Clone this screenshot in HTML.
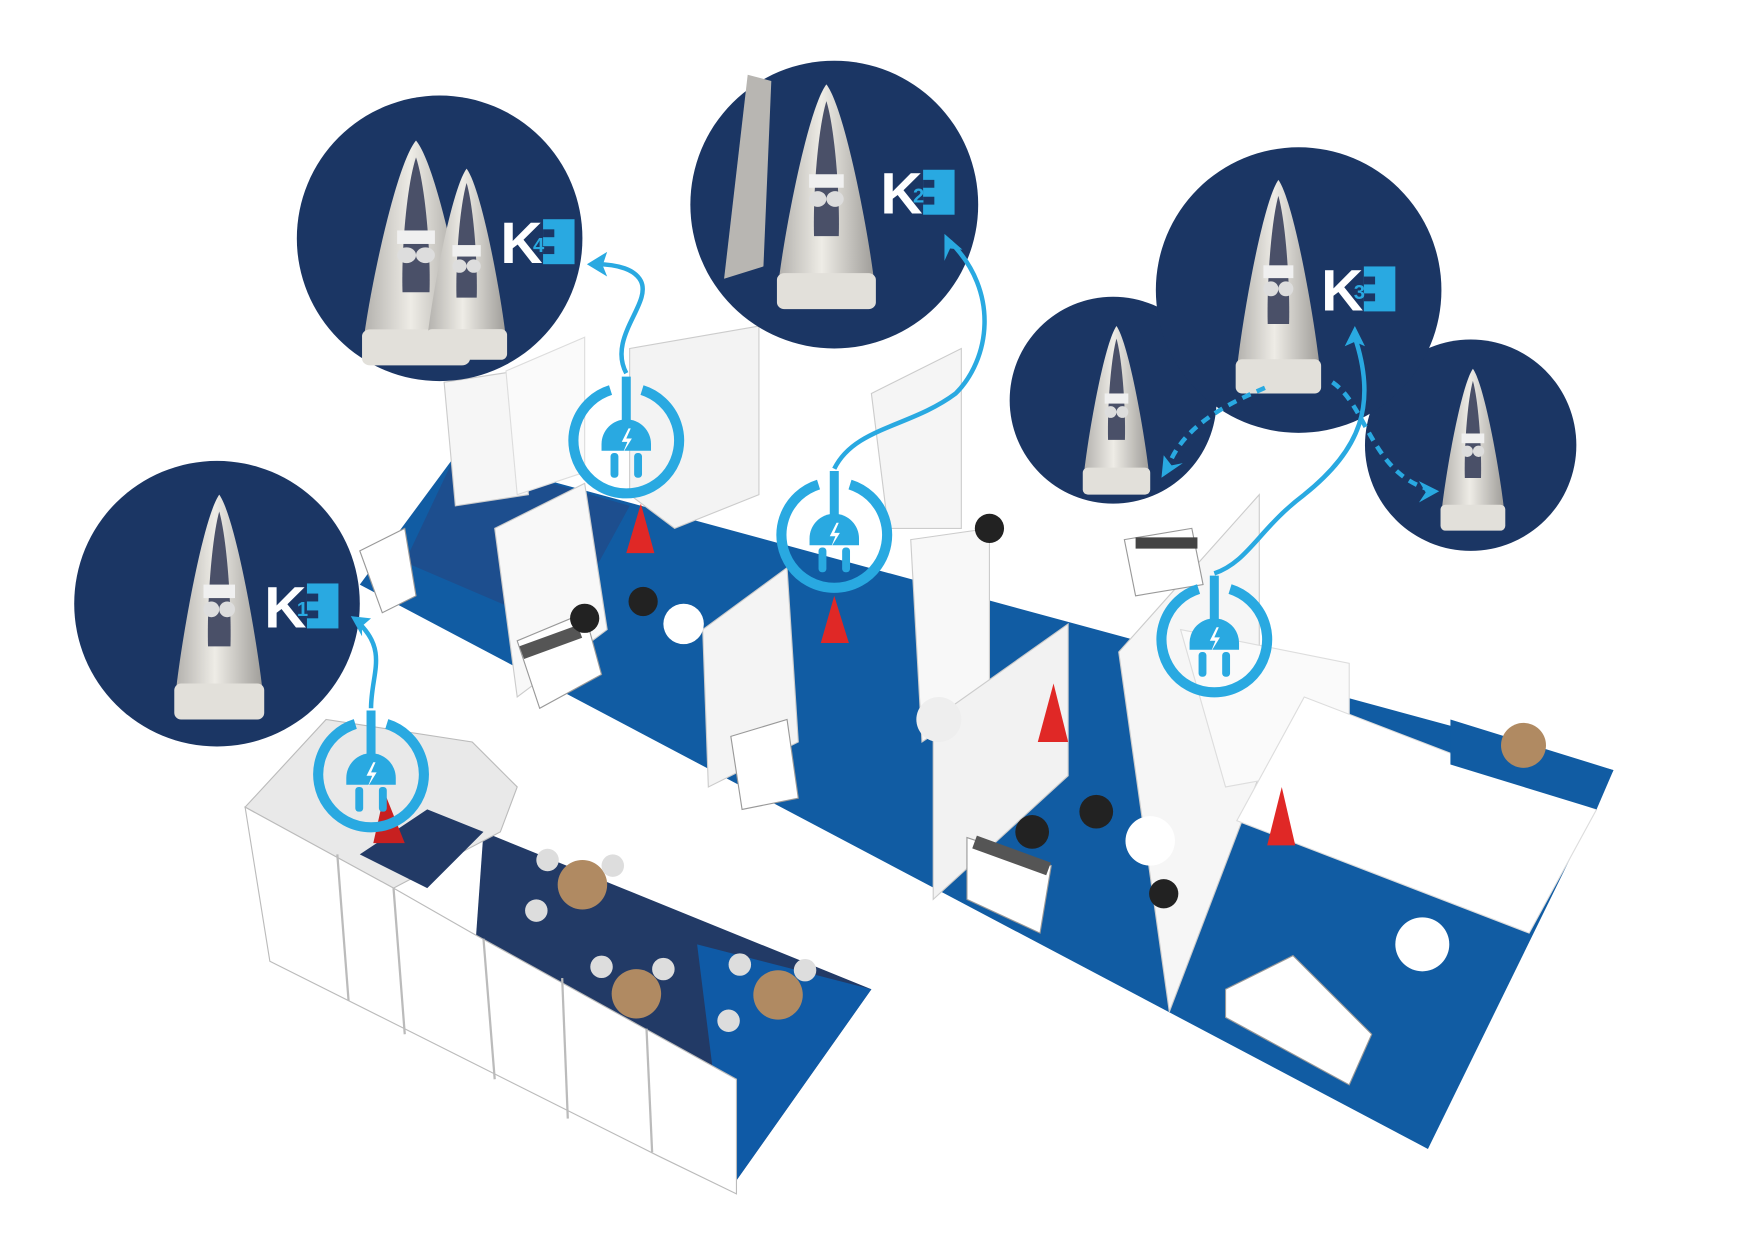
<!DOCTYPE html>
<html><head><style>html,body{margin:0;padding:0;background:#fff}svg{display:block}</style></head>
<body>
<svg width="1754" height="1240" viewBox="0 0 1560 1103" preserveAspectRatio="none" xmlns="http://www.w3.org/2000/svg" font-family="Liberation Sans, sans-serif">
<defs>
<g id="plug">
 <path d="M -14 -46 A 47 47 0 1 0 14 -46" fill="none" stroke="#29a9e1" stroke-width="9"/>
 <path d="M 0 -58 L 0 -18" stroke="#29a9e1" stroke-width="8" fill="none"/>
 <path d="M -22 8 L -22 2 A 22 22 0 0 1 22 2 L 22 8 Z" fill="#29a9e1"/>
 <path d="M 2 -12 L -4 0 L 1 0 L -3 10 L 5 -3 L 0 -3 L 4 -12 Z" fill="#fff"/>
 <rect x="-14" y="10" width="7" height="22" rx="3" fill="#29a9e1"/>
 <rect x="7" y="10" width="7" height="22" rx="3" fill="#29a9e1"/>
</g>
<linearGradient id="rob" x1="0" x2="1">
 <stop offset="0" stop-color="#b4b2ae"/><stop offset="0.45" stop-color="#eeece6"/><stop offset="1" stop-color="#a09e9a"/>
</linearGradient>
<g id="robot">
 <path d="M 0 -100 C -14 -80 -32 20 -38 70 L 38 70 C 32 20 14 -80 0 -100 Z" fill="url(#rob)"/>
 <path d="M 0 -85 C -7 -60 -11 0 -10 35 L 10 35 C 11 0 7 -60 0 -85 Z" fill="#4a5068"/>
 <rect x="-14" y="-20" width="28" height="12" fill="#f0f0f0"/>
 <circle cx="-7" cy="2" r="7" fill="#ddd"/><circle cx="7" cy="2" r="7" fill="#ddd"/>
 <rect x="-40" y="68" width="80" height="32" rx="6" fill="#e2e0da"/>
</g>
<g id="logo">
 <text x="0" y="39" font-size="52" font-weight="bold" fill="#fff">K</text>
 <rect x="38" y="0" width="28" height="40" fill="#29a9e1"/>
 <rect x="38" y="9" width="10" height="7" fill="#1b3664"/>
 <rect x="38" y="24" width="10" height="7" fill="#1b3664"/>
</g>
</defs>

<polygon points="405,405 1435,685 1270,1022 320,520" fill="#115ca3"/>
<polygon points="405,405 560,450 500,560 360,500" fill="#1d4e8e"/>
<polygon points="430,740 775,880 655,1050 420,880" fill="#223a66"/>
<polygon points="620,840 775,880 655,1050 640,1000" fill="#0f5aa6"/>
<polygon points="315,520 1100,1000 1040,1030 300,580" fill="#fff"/>

<polygon points="395,340 460,330 470,440 405,450" fill="#f6f6f6" stroke="#ccc"/>
<polygon points="450,330 520,300 520,420 460,440" fill="#fafafa" stroke="#ddd"/>
<polygon points="560,310 675,290 675,440 600,470 560,440" fill="#f3f3f3" stroke="#ccc"/>
<polygon points="775,350 855,310 855,470 790,470" fill="#f5f5f5" stroke="#ccc"/>
<polygon points="440,470 520,430 540,560 460,620" fill="#f8f8f8" stroke="#ccc"/>
<polygon points="625,560 700,505 710,660 630,700" fill="#f4f4f4" stroke="#ccc"/>
<polygon points="810,480 880,470 880,620 820,660" fill="#f8f8f8" stroke="#ccc"/>
<polygon points="830,640 950,555 950,690 830,800" fill="#f2f2f2" stroke="#ccc"/>
<polygon points="995,580 1120,440 1120,690 1040,900" fill="#f6f6f6" stroke="#ccc"/>
<polygon points="1050,560 1200,590 1200,680 1090,700" fill="#fafafa" stroke="#ddd"/>
<polygon points="1160,620 1420,720 1360,830 1100,730" fill="#fff" stroke="#ddd"/>
<polygon points="1290,640 1435,685 1420,720 1290,680" fill="#115ca3"/>
<polygon points="460,570 520,545 535,600 480,630" fill="#fff" stroke="#999"/>
<rect x="462" y="565" width="55" height="12" fill="#555" transform="rotate(-20 490 570)"/>
<polygon points="650,655 700,640 710,710 660,720" fill="#fff" stroke="#999"/>
<polygon points="860,745 935,770 925,830 860,800" fill="#fff" stroke="#999"/>
<rect x="865" y="755" width="70" height="12" fill="#555" transform="rotate(20 900 760)"/>
<polygon points="1090,880 1150,850 1220,920 1200,965 1090,905" fill="#fff" stroke="#999"/>
<polygon points="320,490 360,470 370,530 340,545" fill="#fff" stroke="#999"/>
<polygon points="1000,480 1060,470 1070,520 1010,530" fill="#fff" stroke="#999"/>
<rect x="1010" y="478" width="55" height="10" fill="#444"/>
<circle cx="608" cy="555" r="18" fill="#fff"/><circle cx="520" cy="550" r="13" fill="#222"/><circle cx="572" cy="535" r="13" fill="#222"/>
<circle cx="1023" cy="748" r="22" fill="#fff"/><circle cx="918" cy="740" r="15" fill="#222"/><circle cx="975" cy="722" r="15" fill="#222"/><circle cx="1035" cy="795" r="13" fill="#222"/>
<circle cx="1265" cy="840" r="24" fill="#fff"/><circle cx="835" cy="640" r="20" fill="#eee"/>
<circle cx="880" cy="470" r="13" fill="#222"/>
<circle cx="1355" cy="663" r="20" fill="#b08a62"/>

<polygon points="218,718 290,640 420,660 460,700 445,740 350,790" fill="#e9e9e9" stroke="#bbb"/>
<polygon points="320,760 380,720 430,740 380,790" fill="#223a66"/>
<polygon points="218,718 350,790 420,830 655,960 655,1062 585,1028 240,855" fill="#fff" stroke="#bbb"/>
<line x1="300" y1="760" x2="310" y2="890" stroke="#bbb" stroke-width="2"/>
<line x1="350" y1="790" x2="360" y2="920" stroke="#bbb" stroke-width="2"/>
<line x1="430" y1="835" x2="440" y2="960" stroke="#bbb" stroke-width="2"/>
<line x1="500" y1="870" x2="505" y2="995" stroke="#bbb" stroke-width="2"/>
<line x1="575" y1="915" x2="580" y2="1025" stroke="#bbb" stroke-width="2"/>
<circle cx="518" cy="787" r="22" fill="#b08a62"/><circle cx="566" cy="884" r="22" fill="#b08a62"/><circle cx="692" cy="885" r="22" fill="#b08a62"/>
<circle cx="487" cy="765" r="10" fill="#ddd"/><circle cx="545" cy="770" r="10" fill="#ddd"/><circle cx="477" cy="810" r="10" fill="#ddd"/>
<circle cx="535" cy="860" r="10" fill="#ddd"/><circle cx="590" cy="862" r="10" fill="#ddd"/><circle cx="658" cy="858" r="10" fill="#ddd"/><circle cx="716" cy="863" r="10" fill="#ddd"/><circle cx="648" cy="908" r="10" fill="#ddd"/>

<polygon points="570,448 557,492 582,492" fill="#e02826"/>
<polygon points="742,530 730,572 755,572" fill="#e02826"/>
<polygon points="937,608 923,660 950,660" fill="#e02826"/>
<polygon points="1140,700 1127,752 1152,752" fill="#e02826"/>
<polygon points="342,705 332,750 360,750" fill="#c82020"/>

<circle cx="391" cy="212" r="127" fill="#1b3664"/>
<circle cx="742" cy="182" r="128" fill="#1b3664"/>
<circle cx="990" cy="356" r="92" fill="#1b3664"/>
<circle cx="1308" cy="396" r="94" fill="#1b3664"/>
<circle cx="1155" cy="258" r="127" fill="#1b3664"/>
<circle cx="193" cy="537" r="127" fill="#1b3664"/>

<g transform="translate(370,225) scale(1.2,1.0)"><use href="#robot"/></g>
<g transform="translate(415,235) scale(0.9,0.85)"><use href="#robot"/></g>
<g transform="translate(665,160) scale(0.7,1.1)"><path d="M 0 -85 L -30 80 L 20 70 L 30 -80 Z" fill="#b8b6b2"/></g>
<g transform="translate(735,175) scale(1.1,1.0)"><use href="#robot"/></g>
<g transform="translate(195,540)"><use href="#robot"/></g>
<g transform="translate(1137,255) scale(0.95,0.95)"><use href="#robot"/></g>
<g transform="translate(993,365) scale(0.75)"><use href="#robot"/></g>
<g transform="translate(1310,400) scale(0.72)"><use href="#robot"/></g>

<g transform="translate(445,195)"><use href="#logo"/></g>
<g transform="translate(783,151)"><use href="#logo"/></g>
<g transform="translate(1175,237)"><use href="#logo"/></g>
<g transform="translate(235,519)"><use href="#logo"/></g>
<g font-weight="bold" font-size="18" fill="#29a9e1">
 <text x="474" y="224">4</text><text x="812" y="180">2</text><text x="1204" y="266">3</text><text x="264" y="548">1</text>
</g>

<g fill="none" stroke="#29a9e1" stroke-width="4">
 <path d="M 557 332 C 540 300 580 270 570 250 C 565 240 550 235 530 235"/>
 <path d="M 742 417 C 760 380 810 380 850 350 C 880 320 890 260 845 215"/>
 <path d="M 1080 510 C 1110 500 1120 470 1160 440 C 1210 400 1225 360 1205 300"/>
 <path d="M 330 630 C 330 600 345 580 320 555"/>
 <path d="M 1125 345 C 1090 360 1050 380 1038 418" stroke-dasharray="8 6"/>
 <path d="M 1185 340 C 1215 360 1220 420 1270 435" stroke-dasharray="8 6"/>
</g>
<g fill="#29a9e1">
 <polygon points="522,235 540,224 536,236 540,246"/>
 <polygon points="840,208 856,222 845,221 840,232"/>
 <polygon points="1205,290 1214,308 1205,304 1196,308"/>
 <polygon points="312,548 330,550 322,557 322,566"/>
 <polygon points="1033,425 1035,405 1042,414 1052,412"/>
 <polygon points="1280,437 1262,428 1268,438 1262,447"/>
</g>

<g transform="translate(557,393)"><use href="#plug"/></g>
<g transform="translate(742,477)"><use href="#plug"/></g>
<g transform="translate(1080,570)"><use href="#plug"/></g>
<g transform="translate(330,690)"><use href="#plug"/></g>
</svg>
</body></html>
